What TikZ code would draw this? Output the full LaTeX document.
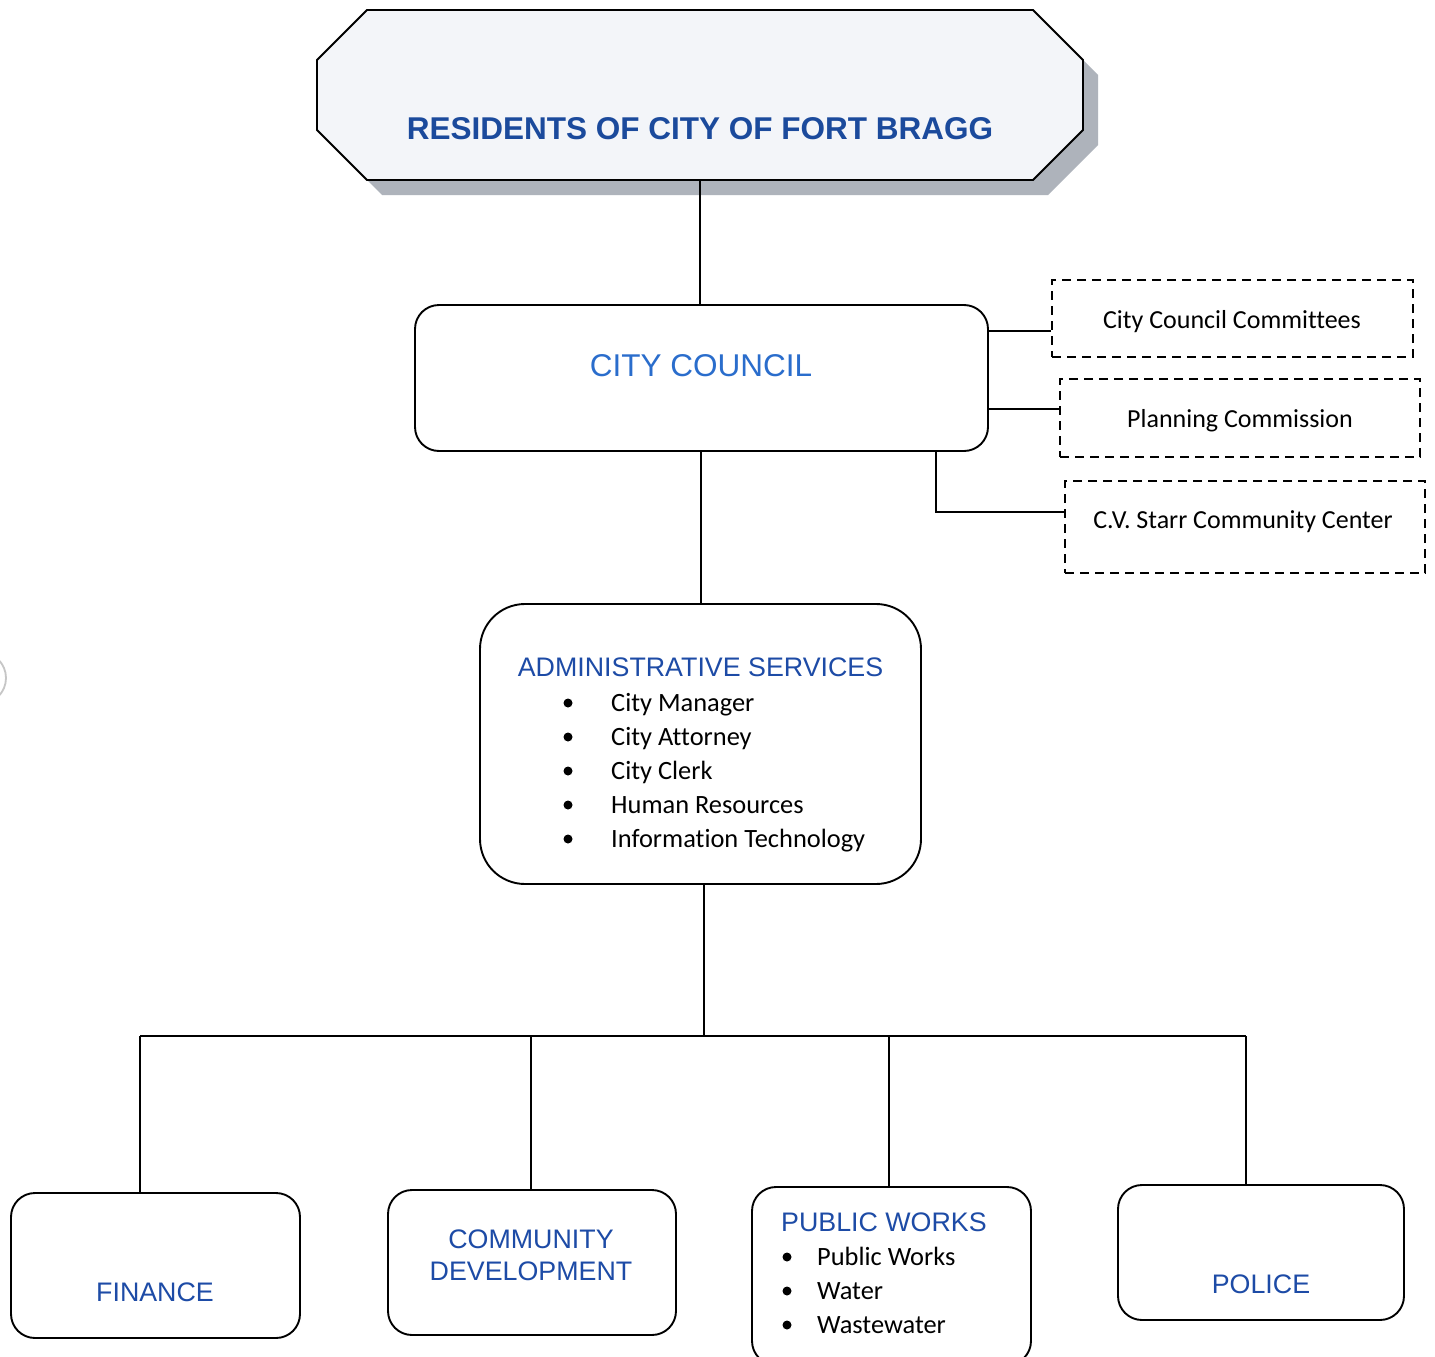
\documentclass[tikz,border=0pt]{standalone}
\usepackage{fontspec}
\setmainfont{Liberation Sans}
\newfontfamily\bodyfont[Ligatures={NoCommon}]{Carlito}
\usetikzlibrary{calc}
\definecolor{titleblue}{HTML}{1B4A9C}
\definecolor{headblue}{HTML}{1D4BA6}
\definecolor{ccblue}{HTML}{2A6DCC}
\definecolor{shadowgray}{HTML}{AEB3BB}
\definecolor{topfill}{HTML}{F3F5F9}
\begin{document}
\begin{tikzpicture}[x=1pt,y=-1pt,
  box/.style={draw=black, line width=1.9pt, fill=white, inner sep=0pt, rounded corners=24pt},
  dbox/.style={draw=black, line width=1.7pt, dash pattern=on 9pt off 6pt, inner sep=0pt},
  conn/.style={line width=1.9pt},
  head/.style={font=\fontsize{26.8}{30}\selectfont, text=headblue, anchor=base, inner sep=0pt},
  item/.style={font=\bodyfont\fontsize{26.4}{30}\selectfont, anchor=base west, inner sep=0pt},
  dtext/.style={font=\bodyfont\fontsize{26}{30}\selectfont, anchor=base, inner sep=0pt},
  bullet/.style={circle, fill=black, inner sep=0pt, minimum size=9pt}]
\useasboundingbox (0,0) rectangle (1435,1357);
\fill[white] (0,0) rectangle (1435,1357);
% hole punch trace
\draw[gray!45, line width=1.8pt] (-20,678) circle (26pt);

% top box
\node[minimum width=766pt, minimum height=170pt, inner sep=0pt] (res) at (700,95) {};
\fill[shadowgray, shift={(15,15)}] (367,10) -- (1033,10) -- (1083,60) -- (1083,130) -- (1033,180) -- (367,180) -- (317,130) -- (317,60) -- cycle;
\draw[line width=1.9pt, fill=topfill] (367,10) -- (1033,10) -- (1083,60) -- (1083,130) -- (1033,180) -- (367,180) -- (317,130) -- (317,60) -- cycle;
\node[font=\bfseries\fontsize{31.5}{36}\selectfont, text=titleblue, anchor=base, inner sep=0pt] (restext) at (700,139) {RESIDENTS OF CITY OF FORT BRAGG};

% city council
\node[box, minimum width=573pt, minimum height=146pt] (cc) at (701.5,378) {};
\node[font=\fontsize{31.5}{36}\selectfont, text=ccblue, anchor=base, inner sep=0pt] (cctext) at (701,376) {CITY COUNCIL};

% dashed boxes
\node[dbox, minimum width=361pt, minimum height=77pt] (ccc) at (1232.5,318.5) {};
\node[dtext] (ccctext) at (1232,328) {City Council Committees};
\node[dbox, minimum width=360pt, minimum height=78pt] (pc) at (1240,418) {};
\node[dtext] (pctext) at (1240,427) {Planning Commission};
\node[dbox, minimum width=360pt, minimum height=92pt] (cvs) at (1245,527) {};
\node[dtext] (cvstext) at (1243,528) {C.V. Starr Community Center};

% administrative services
\node[box, rounded corners=45pt, minimum width=441pt, minimum height=280pt] (adm) at (700.5,744) {};
\node[head] (admhead) at (700.5,676.5) {ADMINISTRATIVE SERVICES};
\node[bullet] (ab1) at (568,703) {};
\node[bullet] (ab2) at (568,737) {};
\node[bullet] (ab3) at (568,771) {};
\node[bullet] (ab4) at (568,805) {};
\node[bullet] (ab5) at (568,839) {};
\node[item] (ai1) at (611,711) {City Manager};
\node[item] (ai2) at (611,745) {City Attorney};
\node[item] (ai3) at (611,779) {City Clerk};
\node[item] (ai4) at (611,813) {Human Resources};
\node[item] (ai5) at (611,847) {Information Technology};

% bottom row
\node[box, minimum width=289pt, minimum height=145pt] (fin) at (155.5,1265.5) {};
\node[head] (fintext) at (155,1301) {FINANCE};
\node[box, minimum width=288pt, minimum height=145pt] (cd) at (532,1262.5) {};
\node[head] (cdtext1) at (531,1248) {COMMUNITY};
\node[head] (cdtext2) at (531,1280) {DEVELOPMENT};
\node[box, minimum width=279pt, minimum height=178pt] (pw) at (891.5,1276) {};
\node[head, anchor=base west] (pwhead) at (781,1231) {PUBLIC WORKS};
\node[bullet] (pb1) at (787,1257) {};
\node[bullet] (pb2) at (787,1291) {};
\node[bullet] (pb3) at (787,1325) {};
\node[item] (pi1) at (817,1265) {Public Works};
\node[item] (pi2) at (817,1299) {Water};
\node[item] (pi3) at (817,1333) {Wastewater};
\node[box, minimum width=286pt, minimum height=135pt] (pol) at (1261,1252.5) {};
\node[head] (poltext) at (1261,1293) {POLICE};

% connectors
\draw[conn] (res.south) -- (res.south |- cc.north);
\draw[conn] (cc.south) ++(-0.5,0) coordinate (ccs) -- (ccs |- adm.north);
\draw[conn] (cc.east |- 0,331) -- (ccc.west |- 0,331);
\draw[conn] (cc.east |- 0,409) -- (pc.west |- 0,409);
\draw[conn] (936,0 |- cc.south) coordinate (ccd) -- (ccd |- 0,512) -- (cvs.west |- 0,512);

\coordinate (busc) at (704,1036);
\coordinate (b1) at (140,1036);
\coordinate (b2) at (531,1036);
\coordinate (b3) at (889,1036);
\coordinate (b4) at (1246,1036);
\draw[conn] (busc |- adm.south) -- (busc);
\draw[conn] (b1) -- (b4);
\draw[conn] (b1) -- (b1 |- fin.north);
\draw[conn] (b2) -- (b2 |- cd.north);
\draw[conn] (b3) -- (b3 |- pw.north);
\draw[conn] (b4) -- (b4 |- pol.north);
\end{tikzpicture}
\end{document}
